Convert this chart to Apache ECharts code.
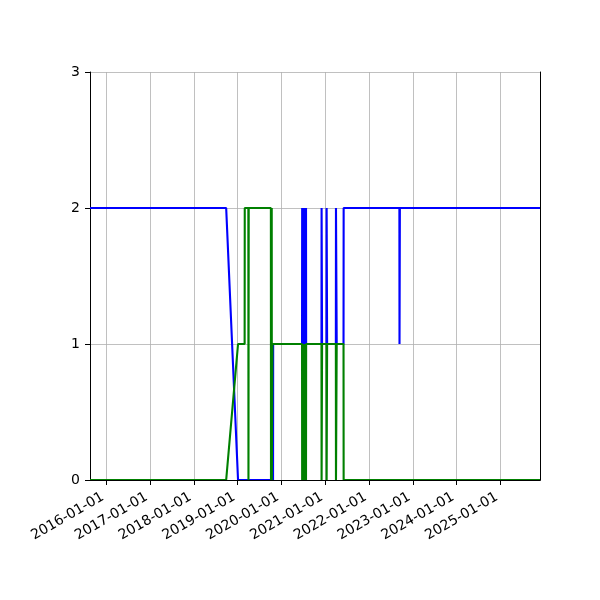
<!DOCTYPE html>
<html>
<head>
<meta charset="utf-8">
<script src="https://cdn.jsdelivr.net/npm/echarts@6.0.0/dist/echarts.min.js"></script>
<style>
  html, body { margin: 0; padding: 0; background: #fff; }
  #main { width: 600px; height: 600px; }
</style>
</head>
<body>
<div id="main"></div>
<script>
var xStart = '2015-08-18';
var xEnd = '2025-11-27';
var yTicks = [0, 1, 2, 3];

var blueDates = [
    '2015-08-18', '2018-09-27', '2019-01-04', '2019-10-23', '2019-10-24',
    '2020-06-21', '2020-06-22', '2020-06-23', '2020-06-29', '2020-06-30', '2020-07-01',
    '2020-07-07', '2020-07-08', '2020-07-09', '2020-07-15', '2020-07-16', '2020-07-17',
    '2020-07-23', '2020-07-24', '2020-07-25',
    '2020-11-30', '2020-12-01', '2020-12-04', '2020-12-05',
    '2021-01-11', '2021-01-12', '2021-01-15', '2021-01-16',
    '2021-03-30', '2021-03-31', '2021-04-05', '2021-04-06',
    '2021-06-02', '2021-06-03',
    '2022-09-11', '2022-09-12', '2022-09-14', '2022-09-15',
    '2025-11-27'
];
var blueValues = [
    2, 2, 0, 0, 1,
    1, 2, 1, 1, 2, 1,
    1, 2, 1, 1, 2, 1,
    1, 2, 1,
    1, 2, 2, 1,
    1, 2, 2, 1,
    1, 2, 2, 1,
    1, 2,
    2, 1, 1, 2,
    2
];

var greenDates = [
    '2015-08-18', '2018-09-27', '2019-01-04', '2019-02-28', '2019-03-01',
    '2019-03-31', '2019-04-01', '2019-04-02', '2019-04-03',
    '2019-10-05', '2019-10-06', '2019-10-11', '2019-10-12', '2019-10-13', '2019-10-17', '2019-10-18',
    '2020-06-21', '2020-06-22', '2020-06-23', '2020-06-29', '2020-06-30', '2020-07-01',
    '2020-07-07', '2020-07-08', '2020-07-09', '2020-07-15', '2020-07-16', '2020-07-17',
    '2020-07-23', '2020-07-24', '2020-07-25',
    '2020-11-30', '2020-12-01', '2020-12-04', '2020-12-05',
    '2021-01-11', '2021-01-12', '2021-01-15', '2021-01-16',
    '2021-03-30', '2021-03-31', '2021-04-05', '2021-04-06',
    '2021-06-02', '2021-06-03',
    '2025-11-27'
];
var greenValues = [
    0, 0, 1, 1, 2,
    2, 0, 0, 2,
    2, 0, 0, 2, 0, 0, 1,
    1, 0, 1, 1, 0, 1,
    1, 0, 1, 1, 0, 1,
    1, 0, 1,
    1, 0, 0, 1,
    1, 0, 0, 1,
    1, 0, 0, 1,
    1, 0,
    0
];

function pairs(dates, values) {
    var out = [];
    for (var i = 0; i < dates.length; i++) {
        out.push([dates[i], values[i]]);
    }
    return out;
}

function pad(n) {
    return n < 10 ? '0' + n : '' + n;
}

var font = 'DejaVu Sans';
var gridLine = { show: true, lineStyle: { color: '#b0b0b0', width: 0.8 } };
var blackLine = { show: true, lineStyle: { color: '#000', width: 1 } };

var myChart = echarts.init(document.getElementById('main'));
var option = {
    animation: false,
    backgroundColor: '#fff',
    grid: {
        left: 90, right: 60, top: 72, bottom: 120
    },
    xAxis: [
        {
            type: 'time',
            min: xStart,
            max: xEnd,
            minInterval: 365 * 24 * 3600 * 1000,
            maxInterval: 366 * 24 * 3600 * 1000,
            axisLine: blackLine,
            axisTick: { show: true, length: 5, lineStyle: { color: '#000' } },
            splitLine: gridLine,
            axisLabel: {
                rotate: 30,
                margin: 14,
                padding: [0, 4, 0, 0],
                fontFamily: font,
                fontSize: 14,
                color: '#000',
                showMinLabel: false,
                showMaxLabel: false,
                formatter: function (val) {
                    var d = new Date(val);
                    return d.getFullYear() + '-' + pad(d.getMonth() + 1) + '-' + pad(d.getDate());
                }
            }
        },
        {
            // top spine only
            type: 'time',
            position: 'top',
            min: xStart,
            max: xEnd,
            z: 5,
            axisLine: blackLine,
            axisTick: { show: false },
            axisLabel: { show: false },
            splitLine: { show: false }
        }
    ],
    yAxis: [
        {
            type: 'value',
            min: yTicks[0],
            max: yTicks[yTicks.length - 1],
            interval: 1,
            axisLine: blackLine,
            axisTick: { show: true, length: 5, lineStyle: { color: '#000' } },
            splitLine: gridLine,
            axisLabel: { margin: 10, fontFamily: font, fontSize: 14, color: '#000' }
        },
        {
            // right spine only
            type: 'value',
            position: 'right',
            min: yTicks[0],
            max: yTicks[yTicks.length - 1],
            z: 5,
            axisLine: blackLine,
            axisTick: { show: false },
            axisLabel: { show: false },
            splitLine: { show: false }
        }
    ],
    series: [
        {
            type: 'line',
            data: pairs(blueDates, blueValues),
            showSymbol: false,
            lineStyle: { color: '#0000ff', width: 2.1 },
            itemStyle: { color: '#0000ff' }
        },
        {
            type: 'line',
            data: pairs(greenDates, greenValues),
            showSymbol: false,
            lineStyle: { color: '#008000', width: 2.1 },
            itemStyle: { color: '#008000' }
        }
    ]
};
myChart.setOption(option);
</script>
</body>
</html>
